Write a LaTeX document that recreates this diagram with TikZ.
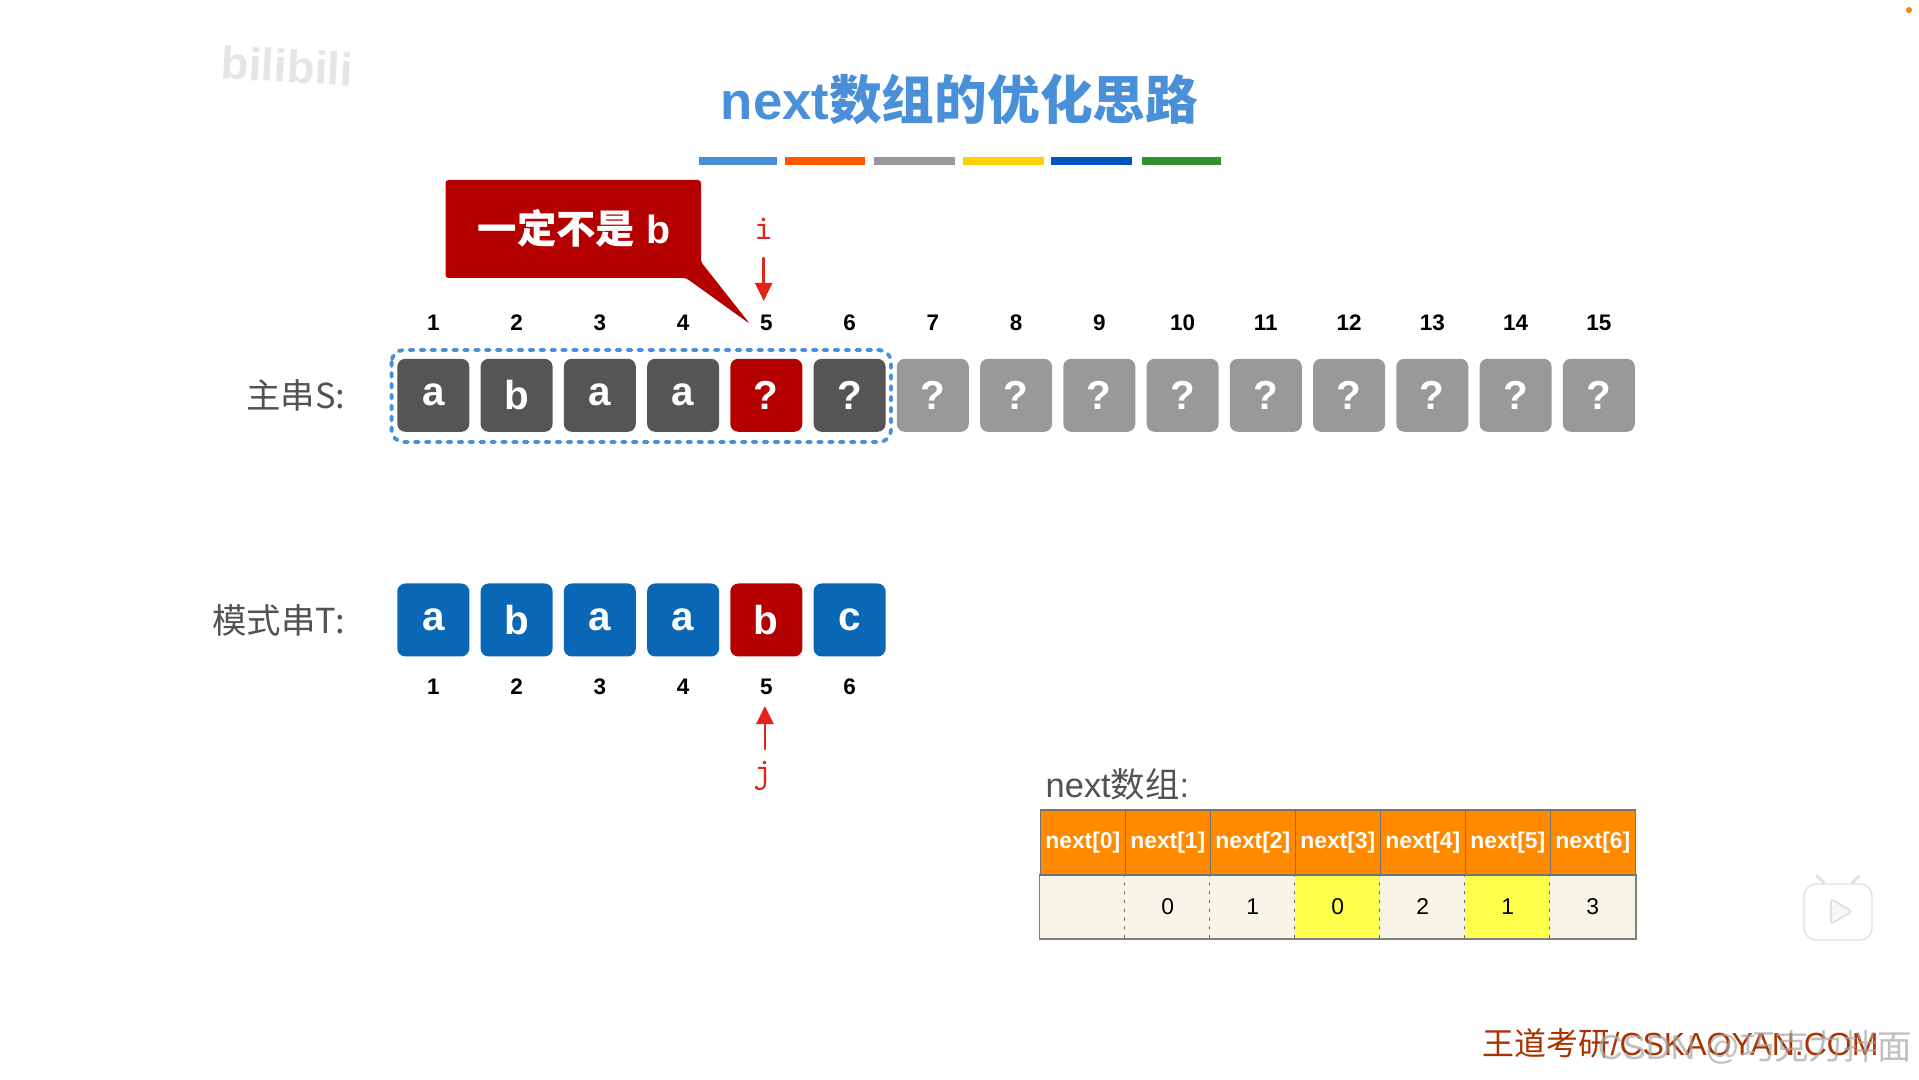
\documentclass[tikz,border=0pt]{standalone}
\usepackage{fontspec}
\setmainfont{Liberation Sans}
\newfontfamily\cjk{Noto Sans CJK SC}
\usepackage{xcolor}
\usetikzlibrary{arrows.meta}
\definecolor{titleblue}{HTML}{4A90D9}
\definecolor{darkred}{HTML}{B50000}
\definecolor{arrowred}{HTML}{E2231A}
\definecolor{celldark}{HTML}{555555}
\definecolor{cellgray}{HTML}{999999}
\definecolor{cellblue}{HTML}{0A67B5}
\definecolor{headorange}{HTML}{FF8A00}
\definecolor{bodycream}{HTML}{F8F5E8}
\definecolor{markyellow}{HTML}{FFFF4D}
\definecolor{footred}{HTML}{A83200}
\tikzset{
  cellbox/.style={rectangle,rounded corners=0.08cm,minimum width=0.72cm,minimum height=0.73cm,inner sep=0pt,text=white,font=\fontsize{11.5}{12}\selectfont\bfseries},
  idxlabel/.style={inner sep=0pt,font=\fontsize{6.4}{7}\selectfont\bfseries},
  rowlabel/.style={anchor=east,inner sep=0pt,text=black!68,font=\fontsize{9.8}{11}\selectfont\cjk},
  headcell/.style={rectangle,draw=black!55,line width=0.3pt,fill=headorange,minimum width=0.85cm,minimum height=0.65cm,inner sep=0pt,text=white,font=\fontsize{6.5}{7}\selectfont\bfseries},
  bodycell/.style={rectangle,fill=bodycream,minimum width=0.85cm,minimum height=0.637cm,inner sep=0pt,font=\fontsize{6.5}{7}\selectfont},
  barbox/.style={rectangle,minimum height=0.085cm,inner sep=0pt},
  ptrlabel/.style={inner sep=0pt,text=arrowred,font=\fontsize{10}{11}\selectfont\ttfamily}
}
\begin{document}
\begin{tikzpicture}[>={Triangle[length=1.8mm,width=1.7mm]},line cap=round]
\useasboundingbox (0,0) rectangle (19.19,10.79);
\fill[white] (0,0) rectangle (19.19,10.79);
% title and colour bars
\node[inner sep=0pt,text=titleblue,font=\fontsize{15}{16}\selectfont\bfseries] (title) at (9.595,9.80) {next{\cjk 数组的优化思路}};
\node[barbox,minimum width=0.78cm,fill=titleblue] (bar1) at (7.38,9.18) {};
\node[barbox,minimum width=0.805cm,fill=orange!70!red] (bar2) at (8.25,9.18) {};
\node[barbox,minimum width=0.81cm,fill=cellgray] (bar3) at (9.145,9.18) {};
\node[barbox,minimum width=0.81cm,fill=yellow!70!orange] (bar4) at (10.035,9.18) {};
\node[barbox,minimum width=0.81cm,fill=blue!55!cyan!75!black] (bar5) at (10.915,9.18) {};
\node[barbox,minimum width=0.79cm,fill=green!45!black!80] (bar6) at (11.815,9.18) {};
% callout
\fill[darkred,rounded corners=0.03cm] (4.455,8.99) -- (7.01,8.99) -- (7.01,8.17) -- (7.50,7.55) -- (6.86,8.01) -- (4.455,8.01) -- cycle;
\node[inner sep=0pt,text=white,font=\fontsize{11.2}{12}\selectfont\bfseries] (note) at (5.74,8.51) {{\cjk 一定不是} b};
% main string
\node[rowlabel] (mainlabel) at (3.46,6.84) {主串S:};
\draw[titleblue,line width=1.1pt,dotted,rounded corners=0.12cm] (3.916,7.29) rectangle (8.91,6.37);
\node[idxlabel] (si1) at (4.333,7.56) {1};
\node[idxlabel] (si2) at (5.166,7.56) {2};
\node[idxlabel] (si3) at (5.998,7.56) {3};
\node[idxlabel] (si4) at (6.831,7.56) {4};
\node[idxlabel] (si5) at (7.663,7.56) {5};
\node[idxlabel] (si6) at (8.496,7.56) {6};
\node[idxlabel] (si7) at (9.328,7.56) {7};
\node[idxlabel] (si8) at (10.161,7.56) {8};
\node[idxlabel] (si9) at (10.993,7.56) {9};
\node[idxlabel] (si10) at (11.826,7.56) {10};
\node[idxlabel] (si11) at (12.658,7.56) {11};
\node[idxlabel] (si12) at (13.491,7.56) {12};
\node[idxlabel] (si13) at (14.323,7.56) {13};
\node[idxlabel] (si14) at (15.156,7.56) {14};
\node[idxlabel] (si15) at (15.988,7.56) {15};
\node[cellbox,fill=celldark] (s1) at (4.333,6.837) {a};
\node[cellbox,fill=celldark] (s2) at (5.166,6.837) {b};
\node[cellbox,fill=celldark] (s3) at (5.998,6.837) {a};
\node[cellbox,fill=celldark] (s4) at (6.831,6.837) {a};
\node[cellbox,fill=darkred] (s5) at (7.663,6.837) {?};
\node[cellbox,fill=celldark] (s6) at (8.496,6.837) {?};
\node[cellbox,fill=cellgray] (s7) at (9.328,6.837) {?};
\node[cellbox,fill=cellgray] (s8) at (10.161,6.837) {?};
\node[cellbox,fill=cellgray] (s9) at (10.993,6.837) {?};
\node[cellbox,fill=cellgray] (s10) at (11.826,6.837) {?};
\node[cellbox,fill=cellgray] (s11) at (12.658,6.837) {?};
\node[cellbox,fill=cellgray] (s12) at (13.491,6.837) {?};
\node[cellbox,fill=cellgray] (s13) at (14.323,6.837) {?};
\node[cellbox,fill=cellgray] (s14) at (15.156,6.837) {?};
\node[cellbox,fill=cellgray] (s15) at (15.988,6.837) {?};
% pattern string
\node[rowlabel] (patlabel) at (3.46,4.59) {模式串T:};
\node[cellbox,fill=cellblue] (t1) at (4.333,4.59) {a};
\node[cellbox,fill=cellblue] (t2) at (5.166,4.59) {b};
\node[cellbox,fill=cellblue] (t3) at (5.998,4.59) {a};
\node[cellbox,fill=cellblue] (t4) at (6.831,4.59) {a};
\node[cellbox,fill=darkred] (t5) at (7.663,4.59) {b};
\node[cellbox,fill=cellblue] (t6) at (8.496,4.59) {c};
\node[idxlabel] (ti1) at (4.333,3.924) {1};
\node[idxlabel] (ti2) at (5.166,3.924) {2};
\node[idxlabel] (ti3) at (5.998,3.924) {3};
\node[idxlabel] (ti4) at (6.831,3.924) {4};
\node[idxlabel] (ti5) at (7.663,3.924) {5};
\node[idxlabel] (ti6) at (8.496,3.924) {6};
% pointers
\node[ptrlabel] (i) at (7.637,8.50) {i};
\coordinate (iend) at (7.637,7.78);
\coordinate (istart) at (7.637,8.21);
\draw[->,arrowred,line width=0.7pt] (istart) -- (iend);
\node[ptrlabel] (j) at (7.625,3.03) {j};
\coordinate (jend) at (7.649,3.73);
\coordinate (jstart) at (7.649,3.30);
\draw[->,arrowred,line width=0.7pt] (jstart) -- (jend);
% next table
\node[anchor=west,inner sep=0pt,text=black!68,font=\fontsize{9.8}{11}\selectfont] (nextlabel) at (10.45,2.945) {next{\cjk 数组}:};
\node[bodycell] (v0) at (10.828,1.722) {};
\node[bodycell] (v1) at (11.678,1.722) {0};
\node[bodycell] (v2) at (12.528,1.722) {1};
\node[bodycell,fill=markyellow] (v3) at (13.378,1.722) {0};
\node[bodycell] (v4) at (14.228,1.722) {2};
\node[bodycell,fill=markyellow] (v5) at (15.078,1.722) {1};
\node[bodycell] (v6) at (15.928,1.722) {3};
\draw[black!60,dotted,line width=0.5pt] (v1.north west) -- (v1.south west);
\draw[black!60,dotted,line width=0.5pt] (v2.north west) -- (v2.south west);
\draw[black!60,dotted,line width=0.5pt] (v3.north west) -- (v3.south west);
\draw[black!60,dotted,line width=0.5pt] (v4.north west) -- (v4.south west);
\draw[black!60,dotted,line width=0.5pt] (v5.north west) -- (v5.south west);
\draw[black!60,dotted,line width=0.5pt] (v6.north west) -- (v6.south west);
\draw[black!50,line width=0.5pt] (v0.north west) -- (v0.south west) -- (v6.south east) -- (v6.north east);
\node[headcell] (h0) at (10.828,2.365) {next[0]};
\node[headcell] (h1) at (11.678,2.365) {next[1]};
\node[headcell] (h2) at (12.528,2.365) {next[2]};
\node[headcell] (h3) at (13.378,2.365) {next[3]};
\node[headcell] (h4) at (14.228,2.365) {next[4]};
\node[headcell] (h5) at (15.078,2.365) {next[5]};
\node[headcell] (h6) at (15.928,2.365) {next[6]};
% corner marks
\node[inner sep=0pt,text=black!10,font=\fontsize{13}{14}\selectfont\bfseries,rotate=-3] (bili) at (2.87,10.13) {bilibili};
\fill[orange] (19.09,10.69) circle (0.03);
\draw[black!12,fill=white,rounded corners=0.12cm,line width=0.4pt] (18.04,1.39) rectangle (18.72,1.95);
\draw[black!12,line width=0.8pt] (18.24,1.96) -- (18.17,2.03);
\draw[black!12,line width=0.8pt] (18.52,1.96) -- (18.59,2.03);
\draw[black!12,fill=black!3,rounded corners=0.03cm,line width=0.5pt] (18.31,1.55) -- (18.31,1.80) -- (18.52,1.675) -- cycle;
% footer
\node[anchor=west,inner sep=0pt,text=footred,font=\fontsize{9.1}{10}\selectfont] (foot) at (14.82,0.36) {{\cjk 王道考研}/CSKAOYAN.COM};
\node[anchor=east,inner sep=0pt,text=black!35,opacity=0.7,font=\fontsize{9.8}{11}\selectfont] (mark) at (19.13,0.32) {CSDN @{\cjk 巧克力拌面}};
\end{tikzpicture}
\end{document}
